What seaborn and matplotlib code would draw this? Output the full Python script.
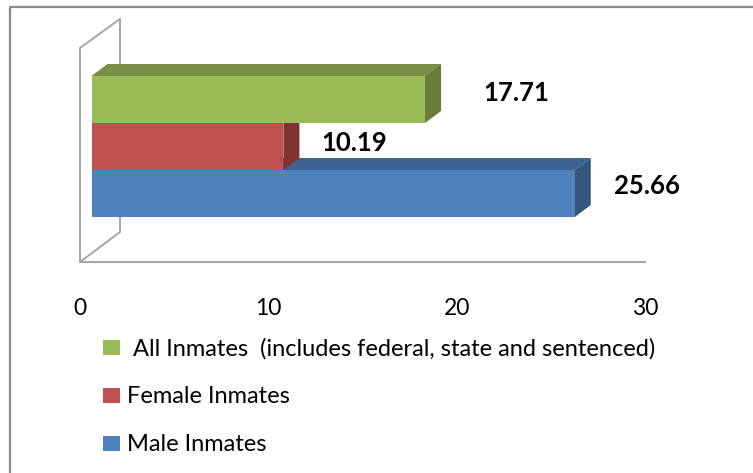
import matplotlib
matplotlib.use("Agg")
import matplotlib.pyplot as plt
import pandas as pd
import seaborn as sns
from matplotlib.lines import Line2D
from matplotlib.patches import Polygon

categories = ["All Inmates  (includes federal, state and sentenced)", "Female Inmates", "Male Inmates"]
values = [17.71, 10.19, 25.66]
value_labels = ["17.71", "10.19", "25.66"]
x_ticks = [0, 10, 20, 30]

W, H = 753, 473
front_colors = ["#9BBB59", "#C0504D", "#4F81BD"]
top_colors = ["#7A8F45", "#7F3230", "#3D6390"]
side_colors = ["#667C38", "#7F3230", "#34567F"]
# label offsets from the bar end, in pixels
label_offsets = [(58, 7), (38, 4), (39, 8)]
GRAY = "#A6A6A6"


def axes_box(left, top, right, bottom):
    return [left / W, 1 - bottom / H, (right - left) / W, (bottom - top) / H]


def wall(xs, ys, color=GRAY, lw=1.4):
    fig.add_artist(Line2D([x / W for x in xs], [1 - y / H for y in ys], color=color, lw=lw, zorder=-1))


sns.set_theme(style="white")
plt.rcParams["font.family"] = ["Lato", "DejaVu Sans"]

df = pd.DataFrame({"group": categories, "value": values})
fig = plt.figure(figsize=(W / 100, H / 100), dpi=100, facecolor="white")

# chart frame, cropped at the right and bottom of the picture
wall([10, 10, W], [H, 7, 7], color="#8C8C8C", lw=1.6)
# 3d wall behind the bars
wall([80, 80, 120, 120, 80], [262, 48, 19, 232, 262])

# visible value axis
axis_ax = fig.add_axes(axes_box(80, 100, 645, 262.5))
axis_ax.patch.set_visible(False)
axis_ax.set_xlim(0, 30)
axis_ax.set_yticks([])
axis_ax.set_xticks(x_ticks)
for name in ["top", "left", "right"]:
    axis_ax.spines[name].set_visible(False)
axis_ax.spines["bottom"].set_color(GRAY)
axis_ax.spines["bottom"].set_linewidth(1.5)
axis_ax.tick_params(axis="x", length=5.5, width=1.2, color=GRAY, direction="out", pad=20,
                    labelsize=16.5, labelcolor="black")

# bars sit on the front plane, shifted from the axis
ax = fig.add_axes(axes_box(91.5, 76, 656.5, 217))
ax.patch.set_visible(False)
sns.barplot(data=df, x="value", y="group", hue="group", palette=front_colors, width=1.0,
            saturation=1, legend=True, ax=ax, zorder=3, edgecolor="none", linewidth=0)
ax.set_xlim(0, 30)
ax.set_ylim(2.5, -0.5)
ax.axis("off")

dx = 16 * 30 / 565
dy = 12 * 3 / 141

bars = [c[0] for c in ax.containers]
for i in [2, 1, 0]:
    bar = bars[i]
    y0, y1 = bar.get_y(), bar.get_y() + bar.get_height()
    end = bar.get_width()
    ax.add_patch(Polygon([(0, y0), (dx, y0 - dy), (end + dx, y0 - dy), (end, y0)],
                         facecolor=top_colors[i], edgecolor="none", zorder=1 + (2 - i) * 0.1, clip_on=False))
    ax.add_patch(Polygon([(end, y0), (end + dx, y0 - dy), (end + dx, y1 - dy), (end, y1)],
                         facecolor=side_colors[i], edgecolor="none", zorder=1 + (2 - i) * 0.1 + 0.05, clip_on=False))
    ax.annotate(value_labels[i], xy=(end, (y0 + y1) / 2),
                xytext=(label_offsets[i][0] * 0.72, label_offsets[i][1] * 0.72),
                textcoords="offset points", ha="left", va="center",
                fontsize=18.5, fontweight="bold", color="black", annotation_clip=False)

handles = [c[0] for c in ax.containers]
old = ax.get_legend()
if old is not None:
    old.remove()
legend_labels = [" " + categories[0]] + categories[1:]
fig.legend(handles, legend_labels, loc="upper left", bbox_to_anchor=(103 / W, 1 - 338 / H),
           frameon=False, fontsize=17, labelspacing=1.14, handlelength=0.72, handleheight=0.6,
           handletextpad=0.3, borderpad=0, borderaxespad=0, labelcolor="black")

fig.savefig("out.png", dpi=100)
